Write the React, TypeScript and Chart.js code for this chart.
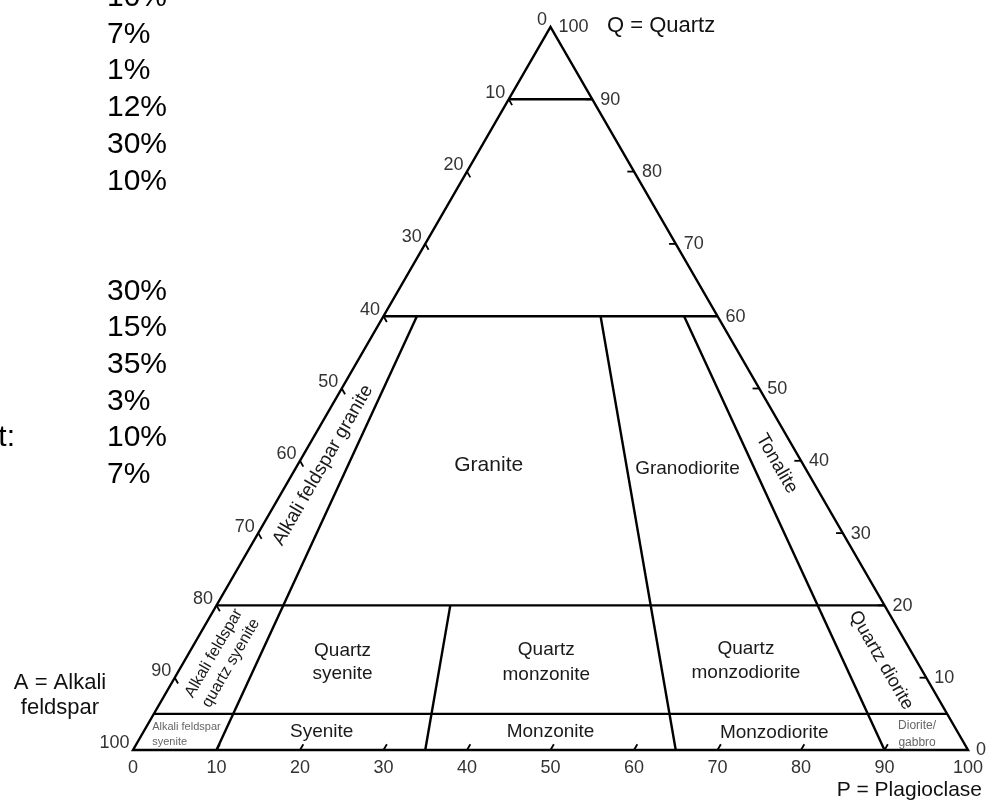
import React, { useEffect, useRef } from 'react';
import { Chart, registerables } from 'chart.js';

Chart.register(...registerables);

// ---- Data (QAP Streckeisen diagram) ----
const axisLabels = [0, 10, 20, 30, 40, 50, 60, 70, 80, 90, 100];
const edgeTicks = [10, 20, 30, 40, 50, 60, 70, 80, 90];
const qBoundaries = [90, 60, 20, 5]; // horizontal field boundaries, Q %
const pRatioBoundaries = [10, 35, 65, 90]; // 100*P/(A+P)
const pRatioTopQ = [60, 20, 60, 60]; // upper Q end of each ratio line
const fieldNames = [
  'Alkali feldspar granite',
  'Granite',
  'Granodiorite',
  'Tonalite',
  'Alkali feldspar\nquartz syenite',
  'Quartz\nsyenite',
  'Quartz\nmonzonite',
  'Quartz\nmonzodiorite',
  'Quartz diorite',
  'Alkali feldspar\nsyenite',
  'Syenite',
  'Monzonite',
  'Monzodiorite',
  'Diorite/\ngabbro',
];
const sidePercents = ['10%', '7%', '1%', '12%', '30%', '10%', '', '', '30%', '15%', '35%', '3%', '10%', '7%'];
const sideNote = 't:';
const vertexNames = ['Q = Quartz', 'P = Plagioclase', 'A = Alkali\nfeldspar'];

const TICK_LEN = 0.8;
const FONT = '"Liberation Sans", Arial, Helvetica, sans-serif';

// ternary (Q, P) -> cartesian data coordinates
const tern = (q: number, p: number) => ({ x: p + q / 2, y: q });
const ratioPt = (q: number, r: number) => tern(q, (r / 100) * (100 - q));

const lineDs = (data: { x: number; y: number }[], w = 2.4) => ({
  data,
  showLine: true,
  borderColor: '#000',
  backgroundColor: '#000',
  borderWidth: w,
  pointRadius: 0,
  pointHoverRadius: 0,
  fill: false,
  tension: 0,
  clip: false as any,
  borderJoinStyle: 'miter' as const,
});

function buildDatasets() {
  const ds: any[] = [];
  // outline
  ds.push(lineDs([tern(0, 0), tern(0, 100), tern(100, 0), tern(0, 0), tern(0, 100)]));
  // horizontal Q boundaries
  qBoundaries.forEach((q) => ds.push(lineDs([tern(q, 0), tern(q, 100 - q)])));
  // P/(A+P) boundaries
  pRatioBoundaries.forEach((r, i) => ds.push(lineDs([ratioPt(pRatioTopQ[i], r), ratioPt(0, r)])));
  // ticks
  edgeTicks.forEach((k) => {
    // left edge (A = k): along constant A, toward P
    const q = 100 - k;
    ds.push(lineDs([tern(q, 0), tern(q - TICK_LEN, TICK_LEN)], 1.8));
    // right edge (Q = k): along constant Q, toward A
    ds.push(lineDs([tern(k, 100 - k), tern(k, 100 - k - TICK_LEN)], 1.8));
    // bottom edge (P = k): along constant P, toward Q
    ds.push(lineDs([tern(0, k), tern(TICK_LEN, k)], 1.8));
  });
  return ds;
}

// label layout (cartesian data coords), index-aligned with fieldNames
const fieldLayout = [
  { x: 22.75, y: 39.4, size: 19, rot: 'left', lh: 22 },
  { x: 42.6, y: 39.4, size: 21, rot: '', lh: 22 },
  { x: 66.4, y: 38.9, size: 19, rot: '', lh: 22 },
  { x: 77.1, y: 39.6, size: 19, rot: 'right', lh: 22 },
  { x: 10.7, y: 12.7, size: 16, rot: 'left', lh: 19.7 },
  { x: 25.1, y: 12.2, size: 19, rot: '', lh: 23 },
  { x: 49.5, y: 12.1, size: 19, rot: '', lh: 25 },
  { x: 73.4, y: 12.4, size: 19, rot: '', lh: 24 },
  { x: 89.6, y: 12.4, size: 18.5, rot: 'right', lh: 22 },
  { x: 2.3, y: 2.1, size: 11, rot: '', lh: 15, align: 'left', color: '#666' },
  { x: 22.6, y: 2.5, size: 19, rot: '', lh: 22 },
  { x: 50, y: 2.5, size: 19, rot: '', lh: 22 },
  { x: 76.8, y: 2.35, size: 19, rot: '', lh: 22 },
  { x: 93.9, y: 2.2, size: 12, rot: '', lh: 17.7, color: '#666' },
];

const textPlugin = {
  id: 'qapText',
  afterDatasetsDraw(chart: any) {
    const { ctx } = chart;
    const sx = chart.scales.x;
    const sy = chart.scales.y;
    const px = (v: number) => sx.getPixelForValue(v);
    const py = (v: number) => sy.getPixelForValue(v);
    const leftAngle = Math.atan2(py(100) - py(0), px(50) - px(0));
    const rightAngle = Math.atan2(py(0) - py(100), px(100) - px(50));

    ctx.save();
    const digits = (t: string, x: number, cy: number, align: string, size: number, color = '#333') => {
      ctx.font = `${size}px ${FONT}`;
      ctx.fillStyle = color;
      ctx.textAlign = align;
      ctx.textBaseline = 'alphabetic';
      ctx.fillText(t, x, cy + 0.358 * size);
    };

    // axis labels
    axisLabels.forEach((k) => {
      // left edge: A = k
      const lp = tern(100 - k, 0);
      digits(String(k), px(lp.x) - 3.5, py(lp.y) - 8, 'right', 18);
      // right edge: Q = k
      const rp = tern(k, 100 - k);
      digits(String(k), px(rp.x) + 8, py(rp.y) - 1, 'left', 18);
      // bottom: P = k
      const bp = tern(0, k);
      digits(String(k), px(bp.x), py(bp.y) + 17, 'center', 18);
    });

    // field names
    fieldNames.forEach((name, i) => {
      const L: any = fieldLayout[i];
      const lines = name.split('\n');
      ctx.save();
      ctx.translate(px(L.x), py(L.y));
      if (L.rot === 'left') ctx.rotate(leftAngle);
      if (L.rot === 'right') ctx.rotate(rightAngle);
      ctx.font = `${L.size}px ${FONT}`;
      ctx.fillStyle = L.color || '#1a1a1a';
      ctx.textAlign = L.align || 'center';
      ctx.textBaseline = 'middle';
      const n = lines.length;
      lines.forEach((ln, j) => {
        ctx.fillText(ln, 0, (j - (n - 1) / 2) * L.lh);
      });
      ctx.restore();
    });

    // vertex names
    const top = { x: px(50), y: py(100) };
    const br = { x: px(100), y: py(0) };
    const bl = { x: px(0), y: py(0) };
    ctx.fillStyle = '#111';
    ctx.textBaseline = 'middle';
    ctx.font = `22px ${FONT}`;
    ctx.textAlign = 'left';
    ctx.fillText(vertexNames[0], top.x + 56.5, top.y - 1);
    ctx.font = `21px ${FONT}`;
    ctx.textAlign = 'right';
    ctx.fillText(vertexNames[1], br.x + 14, br.y + 40);
    ctx.font = `22px ${FONT}`;
    ctx.textAlign = 'center';
    vertexNames[2].split('\n').forEach((ln, j) => {
      ctx.fillText(ln, bl.x - 73, bl.y - 67 + j * 25);
    });

    // left column of percentages
    sidePercents.forEach((t, i) => {
      if (!t) return;
      digits(t, 107, -4.7 + i * 36.7, 'left', 30, '#000');
    });
    digits(sideNote, 15, -4.7 + 12 * 36.7, 'right', 30, '#000');
    ctx.restore();
  },
};

export default function App() {
  const ref = useRef<HTMLCanvasElement | null>(null);
  useEffect(() => {
    if (!ref.current) return;
    const chart = new Chart(ref.current, {
      type: 'scatter',
      data: { datasets: buildDatasets() },
      options: {
        animation: false,
        responsive: false,
        events: [],
        layout: { padding: { left: 133, right: 31, top: 27, bottom: 53 } },
        plugins: { legend: { display: false }, tooltip: { enabled: false }, title: { display: false } },
        scales: {
          x: { type: 'linear', min: 0, max: 100, display: false },
          y: { type: 'linear', min: 0, max: 100, display: false },
        },
      },
      plugins: [textPlugin],
    });
    return () => chart.destroy();
  }, []);
  return (
    <div style={{ position: 'absolute', left: 0, top: 0, width: 999, height: 803, background: '#fff' }}>
      <canvas ref={ref} width={999} height={803} style={{ display: 'block' }} />
    </div>
  );
}
